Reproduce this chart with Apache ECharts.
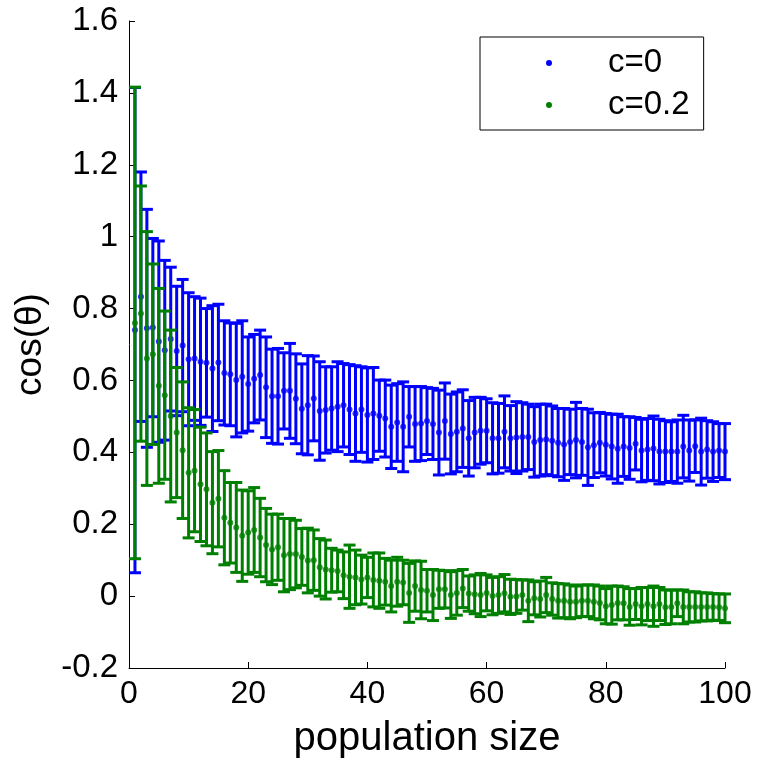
<!DOCTYPE html>
<html>
<head>
<meta charset="utf-8">
<script src="https://cdn.jsdelivr.net/npm/echarts@6/dist/echarts.min.js"></script>
<style>
html,body{margin:0;padding:0;background:#fff;}
#chart{width:758px;height:772px;}
</style>
</head>
<body>
<div id="chart"></div>
<script>
const populationSize = [1,2,3,4,5,6,7,8,9,10,11,12,13,14,15,16,17,18,19,20,21,22,23,24,25,26,27,28,29,30,31,32,33,34,35,36,37,38,39,40,41,42,43,44,45,46,47,48,49,50,51,52,53,54,55,56,57,58,59,60,61,62,63,64,65,66,67,68,69,70,71,72,73,74,75,76,77,78,79,80,81,82,83,84,85,86,87,88,89,90,91,92,93,94,95,96,97,98,99,100];

const meanC0 = [0.740,0.833,0.745,0.747,0.708,0.684,0.715,0.682,0.697,0.659,0.661,0.652,0.649,0.633,0.650,0.621,0.617,0.601,0.610,0.590,0.605,0.615,0.581,0.556,0.556,0.571,0.571,0.549,0.521,0.531,0.550,0.515,0.518,0.522,0.527,0.531,0.519,0.508,0.519,0.504,0.508,0.502,0.494,0.471,0.483,0.471,0.499,0.479,0.480,0.487,0.479,0.455,0.487,0.451,0.457,0.466,0.439,0.455,0.460,0.460,0.439,0.439,0.457,0.439,0.441,0.443,0.443,0.429,0.434,0.436,0.432,0.427,0.422,0.429,0.434,0.429,0.414,0.420,0.427,0.421,0.416,0.410,0.416,0.412,0.424,0.405,0.408,0.411,0.402,0.402,0.402,0.402,0.416,0.405,0.417,0.402,0.408,0.402,0.405,0.402];
const errC0 = [0.675,0.347,0.331,0.248,0.280,0.250,0.200,0.180,0.184,0.185,0.172,0.177,0.151,0.175,0.162,0.145,0.143,0.158,0.156,0.131,0.123,0.125,0.140,0.131,0.133,0.106,0.132,0.125,0.125,0.138,0.118,0.137,0.120,0.116,0.125,0.116,0.125,0.133,0.119,0.131,0.128,0.099,0.107,0.116,0.108,0.125,0.084,0.104,0.103,0.093,0.099,0.118,0.106,0.111,0.111,0.108,0.105,0.098,0.093,0.089,0.099,0.097,0.100,0.091,0.100,0.095,0.091,0.098,0.100,0.098,0.097,0.095,0.100,0.091,0.105,0.093,0.106,0.090,0.084,0.087,0.090,0.096,0.083,0.087,0.073,0.087,0.086,0.090,0.090,0.086,0.083,0.088,0.087,0.085,0.073,0.093,0.080,0.083,0.075,0.078];

const meanC02 = [0.760,0.786,0.661,0.673,0.585,0.559,0.501,0.455,0.406,0.343,0.349,0.311,0.297,0.260,0.271,0.218,0.204,0.191,0.168,0.177,0.184,0.163,0.142,0.130,0.136,0.114,0.117,0.117,0.109,0.099,0.100,0.080,0.074,0.072,0.070,0.058,0.054,0.052,0.046,0.052,0.045,0.043,0.040,0.028,0.040,0.038,0.009,0.028,0.017,0.015,0.003,0.019,0.019,0.003,0.009,0.021,0.007,0.005,0.003,0.009,0.000,0.003,0.008,-0.002,-0.001,0.003,-0.013,-0.006,-0.008,0.003,-0.008,-0.013,-0.013,-0.016,-0.016,-0.013,-0.013,-0.016,-0.019,-0.028,-0.025,-0.019,-0.020,-0.030,-0.022,-0.028,-0.022,-0.028,-0.022,-0.031,-0.030,-0.020,-0.030,-0.030,-0.030,-0.030,-0.030,-0.030,-0.031,-0.034];
const errC02 = [0.656,0.355,0.353,0.251,0.271,0.234,0.239,0.181,0.190,0.181,0.170,0.159,0.157,0.142,0.134,0.131,0.112,0.125,0.127,0.116,0.118,0.109,0.102,0.098,0.092,0.102,0.099,0.094,0.079,0.090,0.084,0.080,0.082,0.061,0.058,0.065,0.088,0.076,0.068,0.056,0.075,0.077,0.065,0.072,0.068,0.062,0.082,0.070,0.080,0.059,0.071,0.053,0.052,0.065,0.062,0.053,0.049,0.054,0.060,0.050,0.052,0.051,0.052,0.049,0.047,0.042,0.058,0.046,0.050,0.049,0.045,0.048,0.047,0.047,0.044,0.044,0.044,0.047,0.047,0.049,0.053,0.047,0.046,0.051,0.043,0.052,0.046,0.056,0.046,0.048,0.047,0.037,0.047,0.042,0.042,0.039,0.039,0.037,0.037,0.040];

const xTicks = [0,20,40,60,80,100];
const yTicks = [-0.2,0,0.2,0.4,0.6,0.8,1,1.2,1.4,1.6];
const seriesNames = ['c=0','c=0.2'];
const colors = ['#0000ff','#008000'];

const FONT = 'Liberation Sans, Arial, Helvetica, sans-serif';

function errData(means, errs){
  return populationSize.map((x,i)=>[x, means[i], errs[i]]);
}
function pointData(means){
  return populationSize.map((x,i)=>[x, means[i]]);
}
function makeRender(color){
  return function(params, api){
    const x = api.value(0), m = api.value(1), e = api.value(2);
    const top = api.coord([x, m + e]);
    const bot = api.coord([x, m - e]);
    const hw = 6;
    const st = {stroke: color, lineWidth: 3, fill: null};
    return {
      type: 'group',
      children: [
        {type:'line', shape:{x1:top[0], y1:top[1], x2:bot[0], y2:bot[1]}, style: st},
        {type:'line', shape:{x1:top[0]-hw, y1:top[1], x2:top[0]+hw, y2:top[1]}, style: st},
        {type:'line', shape:{x1:bot[0]-hw, y1:bot[1], x2:bot[0]+hw, y2:bot[1]}, style: st}
      ]
    };
  };
}

const chart = echarts.init(document.getElementById('chart'), null, {renderer:'canvas'});
const option = {
  animation: false,
  backgroundColor: '#ffffff',
  textStyle: {fontFamily: FONT},
  grid: {left: 129, right: 33, top: 21, bottom: 104, containLabel: false},
  legend: {
    orient: 'vertical',
    left: 480,
    top: 37,
    backgroundColor: '#ffffff',
    borderColor: '#000000',
    borderWidth: 1,
    borderRadius: 0,
    padding: [8, 14, 7, 66],
    itemGap: 6,
    itemWidth: 6,
    itemHeight: 6,
    selectedMode: false,
    textStyle: {fontSize: 33, color: '#000', fontFamily: FONT, lineHeight: 36, padding: [0,0,0,51]},
    data: [
      {name: seriesNames[0], icon: 'circle', itemStyle: {color: colors[0]}},
      {name: seriesNames[1], icon: 'circle', itemStyle: {color: colors[1]}}
    ]
  },
  xAxis: {
    type: 'value',
    min: xTicks[0],
    max: xTicks[xTicks.length-1],
    interval: 20,
    name: 'population size',
    nameLocation: 'middle',
    nameGap: 51,
    nameTextStyle: {fontSize: 40, color: '#000', fontFamily: FONT},
    axisLine: {onZero: false, lineStyle: {color: '#000', width: 1}},
    axisTick: {inside: true, length: 6, lineStyle: {color: '#000'}},
    axisLabel: {fontSize: 32, color: '#000', margin: 10, fontFamily: FONT},
    splitLine: {show: false}
  },
  yAxis: {
    type: 'value',
    min: yTicks[0],
    max: yTicks[yTicks.length-1],
    interval: 0.2,
    name: 'cos(θ)',
    nameLocation: 'middle',
    nameGap: 80,
    nameTextStyle: {fontSize: 37, color: '#000', fontFamily: FONT},
    axisLine: {show: true, onZero: false, lineStyle: {color: '#000', width: 1}},
    axisTick: {show: true, inside: true, length: 6, lineStyle: {color: '#000'}},
    axisLabel: {fontSize: 33, color: '#000', margin: 11, fontFamily: FONT},
    splitLine: {show: false}
  },
  series: [
    {
      name: seriesNames[0], type: 'custom', z: 2,
      renderItem: makeRender(colors[0]),
      itemStyle: {color: colors[0]},
      encode: {x: 0, y: 1},
      data: errData(meanC0, errC0)
    },
    {
      name: seriesNames[0], type: 'scatter', z: 3,
      symbol: 'circle', symbolSize: 6,
      itemStyle: {color: colors[0]},
      data: pointData(meanC0)
    },
    {
      name: seriesNames[1], type: 'custom', z: 4,
      renderItem: makeRender(colors[1]),
      itemStyle: {color: colors[1]},
      encode: {x: 0, y: 1},
      data: errData(meanC02, errC02)
    },
    {
      name: seriesNames[1], type: 'scatter', z: 5,
      symbol: 'circle', symbolSize: 6,
      itemStyle: {color: colors[1]},
      data: pointData(meanC02)
    }
  ]
};
chart.setOption(option);
</script>
</body>
</html>
